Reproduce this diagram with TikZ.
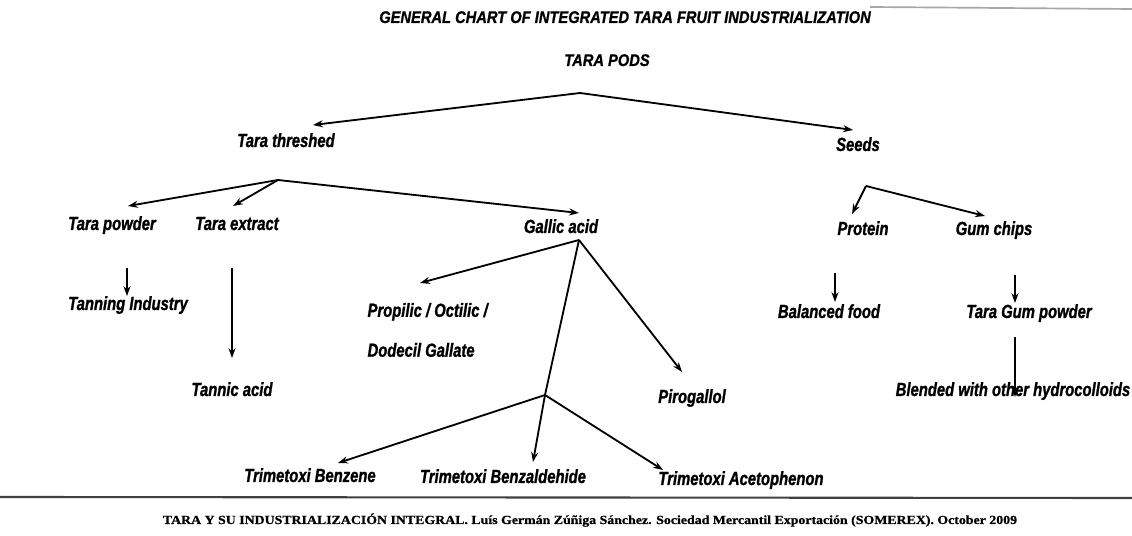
\documentclass[tikz,border=0pt]{standalone}
\usepackage{fontspec}
\setmainfont{Liberation Sans}
\newfontfamily\chartfont[FakeStretch=0.78,FakeBold=1.2]{Liberation Sans}
\newfontfamily\headfont[FakeStretch=0.87,FakeBold=1]{Liberation Sans}
\newfontfamily\footfont[FakeStretch=1.12,FakeBold=0.8]{Liberation Serif}
\usetikzlibrary{arrows.meta}

\begin{document}
\begin{tikzpicture}[x=0.025cm,y=-0.025cm,->,>={Stealth[length=7pt,width=5pt]},line width=1.3pt,
  item/.style={anchor=base,font=\chartfont\fontsize{13.5}{16}\selectfont\bfseries\itshape},
  head/.style={anchor=base,font=\headfont\fontsize{12}{14}\selectfont\bfseries\itshape}]
\useasboundingbox (0,0) rectangle (1132,536);

\node[head](title) at (625,23){GENERAL CHART OF INTEGRATED TARA FRUIT INDUSTRIALIZATION};
\node[head](pods) at (607,66){TARA PODS};
\node[item](threshed) at (286,147){Tara threshed};
\node[item](seeds) at (858,151){Seeds};
\node[item](powder) at (112,230){Tara powder};
\node[item](extract) at (237,230){Tara extract};
\node[item](gallic) at (561,233){Gallic acid};
\node[item](protein) at (863,235){Protein};
\node[item](gumchips) at (994,235){Gum chips};
\node[item](tanning) at (128,310){Tanning Industry};
\node[item,align=left,anchor=west](gallate) at (362,330){Propilic / Octilic /\\[12.4pt]Dodecil Gallate};
\node[item](balanced) at (829,318){Balanced food};
\node[item](gumpowder) at (1029,318){Tara Gum powder};
\node[item](tannic) at (232,396){Tannic acid};
\node[item](pirogallol) at (692,403){Pirogallol};
\node[item](blended) at (1013,396){Blended with other hydrocolloids};
\node[item](benzene) at (310,482){Trimetoxi Benzene};
\node[item](benzaldehide) at (503,483){Trimetoxi Benzaldehide};
\node[item](acetophenon) at (741,485){Trimetoxi Acetophenon};
\node[anchor=base,font=\footfont\bfseries\fontsize{8.8}{10}\selectfont](source) at (590,524){TARA Y SU INDUSTRIALIZACIÓN INTEGRAL. Luís Germán Zúñiga Sánchez. Sociedad Mercantil Exportación (SOMEREX). October 2009};

% forks and arrow ends
\coordinate(podsfork) at (580,93);
\coordinate(threshedin) at (313,125);
\coordinate(seedsin) at (853,130);
\coordinate(threshedfork) at (278,180);
\coordinate(powderin) at (128,206);
\coordinate(extractin) at (233,206);
\coordinate(gallicin) at (579,213);
\coordinate(seedsfork) at (866,186);
\coordinate(proteinin) at (852,214);
\coordinate(gumchipsin) at (985,216);
\coordinate(powderout) at (127,268);
\coordinate(tanningin) at (127,296);
\coordinate(extractout) at (232,268);
\coordinate(tannicin) at (232,358);
\coordinate(gallicfork) at (579,240);
\coordinate(gallatein) at (420,283);
\coordinate(pirogallolin) at (682,372);
\coordinate(trimfork) at (545,395);
\coordinate(benzenein) at (338,463);
\coordinate(benzaldehidein) at (533,462);
\coordinate(acetophenonin) at (663,470);
\coordinate(proteinout) at (835,273);
\coordinate(balancedin) at (835,302);
\coordinate(gumchipsout) at (1015,275);
\coordinate(gumpowderin) at (1015,303);
\coordinate(gumpowderout) at (1015,337);
\coordinate(blendedin) at (1015,397);

\path(podsfork)edge(threshedin)
	(podsfork)edge(seedsin)
	(threshedfork)edge(powderin)
	(threshedfork)edge(extractin)
	(threshedfork)edge(gallicin)
	(seedsfork)edge(proteinin)
	(seedsfork)edge(gumchipsin)
	(powderout)edge(tanningin)
	(extractout)edge(tannicin)
	(gallicfork)edge(gallatein)
	(gallicfork)edge(pirogallolin)
	(gallicfork)edge[-](trimfork)
	(trimfork)edge(benzenein)
	(trimfork)edge(benzaldehidein)
	(trimfork)edge(acetophenonin)
	(proteinout)edge(balancedin)
	(gumchipsout)edge(gumpowderin)
	(gumpowderout)edge(blendedin);

% page rules
\draw[-,line width=1.5pt,black!75](0,497)--(1132,498);
\draw[-,line width=1.2pt,black!35](870,7)--(1132,9);

\end{tikzpicture}
\end{document}
